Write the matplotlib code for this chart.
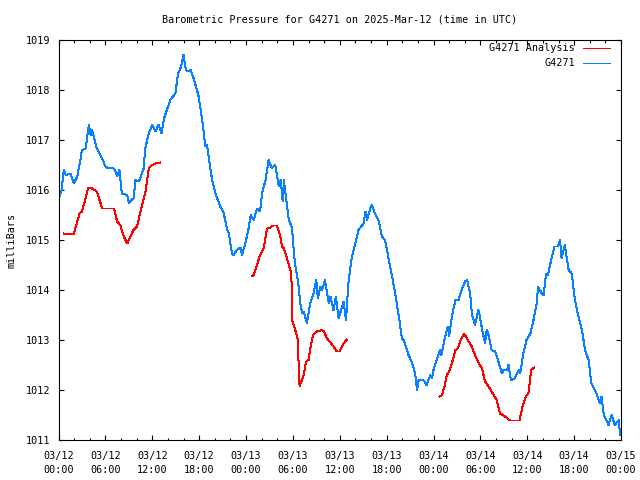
import numpy as np
import matplotlib
matplotlib.use("Agg")
import matplotlib.pyplot as plt
from matplotlib.lines import Line2D

title = "Barometric Pressure for G4271 on 2025-Mar-12 (time in UTC)"
ylabel = "milliBars"
series_names = ["G4271 Analysis", "G4271"]
tick_hours = [0, 6, 12, 18, 24, 30, 36, 42, 48, 54, 60, 66, 72]
tick_labels = ["03/12\n00:00", "03/12\n06:00", "03/12\n12:00", "03/12\n18:00",
               "03/13\n00:00", "03/13\n06:00", "03/13\n12:00", "03/13\n18:00",
               "03/14\n00:00", "03/14\n06:00", "03/14\n12:00", "03/14\n18:00",
               "03/15\n00:00"]
y_ticks = [1011, 1012, 1013, 1014, 1015, 1016, 1017, 1018, 1019]

# G4271 observations (hours since 03/12 00:00 UTC, mbar)
blue_h = [0.0, 0.4, 0.68, 0.9, 1.53, 1.96, 2.4, 2.8, 3.0, 3.5, 3.7, 3.9, 4.1, 4.3, 4.9,
          5.6, 6.0, 6.4, 6.8, 7.2, 7.5, 7.8, 8.1, 8.8, 9.0, 9.3, 9.6, 9.85, 10.3, 10.9,
          11.1, 11.55, 12.0, 12.4, 12.8, 13.2, 13.5, 14.3, 14.96, 15.3, 15.7, 16.0, 16.3,
          16.7, 16.9, 17.3, 17.9, 18.4, 18.8, 19.0, 19.4, 19.66, 20.1, 20.7, 21.1, 21.6,
          21.8, 22.2, 22.4, 22.85, 23.3, 23.5, 23.9, 24.3, 24.6, 25.0, 25.4, 25.8, 26.05,
          26.5, 26.9, 27.3, 27.75, 28.2, 28.45, 28.7, 28.85, 29.45, 29.9, 30.1, 30.3, 30.7,
          30.95, 31.2, 31.4, 31.8, 32.2, 32.65, 33.0, 33.2, 33.5, 33.75, 34.1, 34.6, 34.8,
          35.2, 35.5, 35.85, 36.5, 36.8, 37.1, 37.55, 38.0, 38.4, 39.05, 39.3, 39.5, 39.9,
          40.1, 40.5, 41.0, 41.4, 41.8, 42.2, 42.7, 43.1, 43.5, 43.7, 43.95, 44.2, 44.8,
          45.2, 45.65, 45.9, 46.1, 46.7, 47.1, 47.6, 47.8, 48.0, 48.4, 48.85, 49.0, 49.3,
          49.7, 49.85, 50.0, 50.35, 50.8, 51.2, 51.6, 52.05, 52.3, 52.7, 52.9, 53.3, 53.75,
          53.9, 54.2, 54.6, 54.8, 55.0, 55.45, 55.9, 56.3, 56.75, 56.95, 57.4, 57.6, 57.9,
          58.4, 58.9, 59.1, 59.5, 59.9, 60.4, 60.8, 61.2, 61.4, 61.85, 62.1, 62.4, 62.65,
          63.1, 63.5, 63.9, 64.2, 64.4, 64.8, 65.3, 65.7, 66.1, 66.55, 67.0, 67.4, 67.85,
          68.2, 68.85, 69.3, 69.5, 69.8, 70.4, 70.8, 71.2, 71.7, 71.9]
blue_p = [1015.81, 1016.0, 1016.4, 1016.3, 1016.33, 1016.13, 1016.27, 1016.6, 1016.8,
          1016.83, 1017.1, 1017.3, 1017.1, 1017.2, 1016.83, 1016.63, 1016.47, 1016.43,
          1016.45, 1016.41, 1016.27, 1016.4, 1015.93, 1015.9, 1015.73, 1015.8, 1015.83,
          1016.2, 1016.17, 1016.43, 1016.83, 1017.13, 1017.3, 1017.17, 1017.3, 1017.13,
          1017.43, 1017.8, 1017.93, 1018.33, 1018.47, 1018.7, 1018.4, 1018.37, 1018.4,
          1018.23, 1017.9, 1017.4, 1016.87, 1016.9, 1016.47, 1016.2, 1015.93, 1015.67,
          1015.57, 1015.2, 1015.13, 1014.73, 1014.7, 1014.8, 1014.85, 1014.7, 1014.93,
          1015.2, 1015.5, 1015.4, 1015.63, 1015.57, 1015.93, 1016.2, 1016.6, 1016.43,
          1016.5, 1016.07, 1016.2, 1015.77, 1016.2, 1015.43, 1015.23, 1014.8, 1014.5,
          1014.13, 1013.73, 1013.53, 1013.57, 1013.33, 1013.73, 1013.93, 1014.2, 1013.83,
          1014.07, 1014.0, 1014.2, 1013.73, 1013.87, 1013.6, 1013.87, 1013.43, 1013.77,
          1013.4, 1014.13, 1014.67, 1014.93, 1015.2, 1015.33, 1015.57, 1015.4, 1015.63,
          1015.7, 1015.53, 1015.37, 1015.07, 1015.0, 1014.67, 1014.27, 1013.93, 1013.53,
          1013.33, 1013.03, 1013.0, 1012.7, 1012.57, 1012.33, 1012.0, 1012.2, 1012.2,
          1012.1, 1012.3, 1012.23, 1012.4, 1012.6, 1012.8, 1012.7, 1012.93, 1013.2,
          1013.27, 1013.07, 1013.47, 1013.8, 1013.8, 1014.0, 1014.17, 1014.2, 1013.93,
          1013.53, 1013.3, 1013.6, 1013.5, 1013.23, 1012.93, 1013.2, 1013.13, 1012.8,
          1012.77, 1012.57, 1012.33, 1012.4, 1012.4, 1012.5, 1012.2, 1012.23, 1012.4,
          1012.33, 1012.73, 1013.0, 1013.13, 1013.4, 1013.73, 1014.07, 1013.93, 1013.9,
          1014.33, 1014.3, 1014.63, 1014.87, 1014.87, 1015.0, 1014.63, 1014.9, 1014.4,
          1014.33, 1013.8, 1013.47, 1013.2, 1012.8, 1012.6, 1012.13, 1011.93, 1011.73,
          1011.87, 1011.5, 1011.3, 1011.5, 1011.3, 1011.4, 1011.1]

# G4271 Analysis, three separate segments
red1_h = [0.68, 1.2, 1.96, 2.4, 2.7, 3.0, 3.4, 3.8, 4.3, 4.9, 5.6, 6.4, 7.1, 7.5, 7.9,
          8.35, 8.8, 9.2, 9.6, 10.05, 10.5, 10.9, 11.1, 11.55, 12.0, 12.4, 13.0]
red1_p = [1015.13, 1015.12, 1015.12, 1015.37, 1015.53, 1015.57, 1015.8, 1016.05, 1016.03,
          1015.97, 1015.63, 1015.63, 1015.63, 1015.37, 1015.3, 1015.07, 1014.93, 1015.07,
          1015.2, 1015.27, 1015.57, 1015.83, 1015.93, 1016.43, 1016.5, 1016.53, 1016.55]
red2_h = [24.8, 25.0, 25.4, 25.8, 26.25, 26.7, 27.1, 27.5, 27.96, 28.4, 28.6, 28.85,
          29.25, 29.6, 29.8, 29.95, 30.3, 30.6, 30.86, 31.37, 31.7, 32.0, 32.23, 32.57,
          33.08, 33.72, 34.0, 34.36, 34.79, 35.2, 35.64, 35.97, 36.5, 36.9]
red2_p = [1014.28, 1014.3, 1014.5, 1014.7, 1014.83, 1015.23, 1015.25, 1015.29, 1015.29,
          1015.07, 1014.87, 1014.83, 1014.63, 1014.43, 1014.33, 1013.37, 1013.2, 1013.03,
          1012.07, 1012.3, 1012.57, 1012.6, 1012.83, 1013.1, 1013.17, 1013.2, 1013.17,
          1013.03, 1012.95, 1012.87, 1012.77, 1012.77, 1012.93, 1013.01]
red3_h = [48.75, 49.1, 49.5, 49.7, 50.0, 50.35, 50.8, 51.1, 51.4, 51.9, 52.5, 52.9, 53.3,
          53.75, 54.2, 54.6, 55.05, 55.7, 56.1, 56.5, 56.9, 57.8, 59.0, 59.4, 59.85, 60.15,
          60.5, 60.9]
red3_p = [1011.87, 1011.9, 1012.13, 1012.3, 1012.37, 1012.53, 1012.8, 1012.83, 1012.97,
          1013.13, 1012.97, 1012.87, 1012.7, 1012.55, 1012.43, 1012.17, 1012.07, 1011.9,
          1011.8, 1011.53, 1011.5, 1011.39, 1011.39, 1011.67, 1011.88, 1011.93, 1012.4,
          1012.45]

RED = "#ff0000"
BLUE = "#0a80ff"
FONT = "DejaVu Sans Mono"
FS = 7.3

plt.rcParams['font.family'] = [FONT]
fig = plt.figure(figsize=(6.4, 4.8), dpi=100)
ax = fig.add_axes([58.5 / 640, 1 - 440 / 480, (621 - 58.5) / 640, 400 / 480])

lw = 0.72
for h, p in [(red1_h, red1_p), (red2_h, red2_p), (red3_h, red3_p)]:
    ax.plot(h, p, color=RED, lw=lw, antialiased=False)
ax.plot(blue_h, blue_p, color=BLUE, lw=lw, antialiased=False)

ax.set_xlim(0, 72)
ax.set_ylim(1011, 1019)
ax.set_xticks(tick_hours)
ax.set_xticklabels(tick_labels, fontsize=FS, linespacing=1.5)
ax.set_xticks(np.arange(0, 73, 2), minor=True)
ax.set_yticks(y_ticks)
ax.set_yticklabels([str(v) for v in y_ticks], fontsize=FS)
ax.tick_params(axis='both', which='major', direction='in', length=3.4, width=0.8,
               top=True, right=True, pad=6)
ax.tick_params(axis='x', which='minor', direction='in', length=1.8, width=0.8,
               top=True, bottom=True)
ax.tick_params(axis='x', which='major', pad=8)
for s in ax.spines.values():
    s.set_linewidth(0.8)

fig.text(12 / 640, 1 - 240 / 480, ylabel, fontsize=FS, rotation=90,
         ha='center', va='center')
fig.text(339.5 / 640, 1 - 19 / 480, title, fontsize=FS, ha='center', va='center')

# legend (manual, gnuplot style)
names_y = [48, 63]
colors = [RED, BLUE]
for name, yy, c in zip(series_names, names_y, colors):
    fig.text(575 / 640, 1 - yy / 480, name, fontsize=FS, ha='right', va='center')
    fig.add_artist(Line2D([583 / 640, 610 / 640], [1 - yy / 480, 1 - yy / 480],
                          color=c, lw=lw, transform=fig.transFigure))

fig.savefig("out.png", dpi=100)
